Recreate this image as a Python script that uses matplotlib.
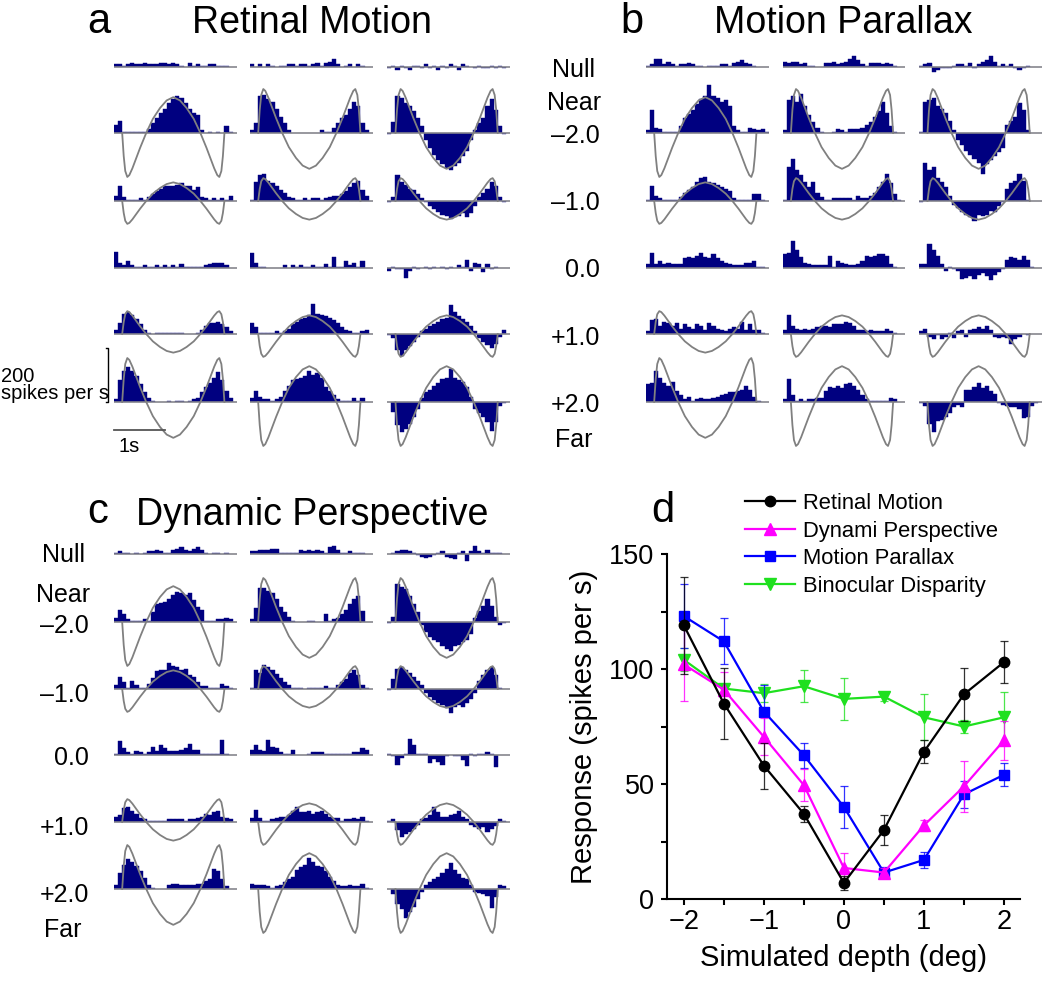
import matplotlib.pyplot as plt
import numpy as np

plt.rcParams['font.family'] = ['Liberation Sans', 'DejaVu Sans']

# PSTHs, spikes/s in 30 bins of 80 ms from -0.16 s to 2.24 s
# rows: Null, -2.0, -1.0, 0.0, +1.0, +2.0 ; three example conditions per row
retinal_psth = [
    [[10,10,5,10,15,10,10,15,10,10,10,15,15,10,15,10,5,0,15,5,10,5,5,10,10,5,5,5,0,0],
     [10,0,10,0,10,5,0,5,5,10,10,5,10,10,5,10,15,5,15,20,30,10,0,5,10,0,10,5,0,0],
     [-5,5,-10,5,-5,-10,5,5,-5,10,-5,5,-10,5,-5,10,5,-10,10,5,0,-5,5,-5,-5,5,-5,5,-5,0]],
    [[30,45,5,5,5,5,5,5,15,35,55,75,90,110,125,135,130,110,90,75,65,10,0,3,0,3,0,25,5,0],
     [10,35,135,140,125,115,90,60,35,10,0,0,0,0,0,0,0,12,5,5,18,35,55,65,90,115,100,35,12,0],
     [-5,40,135,130,110,100,80,55,25,-25,-55,-80,-100,-115,-130,-135,-120,-110,-85,-65,-25,12,35,55,100,125,85,25,-5,0]],
    [[20,55,15,5,5,5,10,5,15,25,35,45,55,55,55,60,65,55,55,40,50,15,10,5,10,5,10,5,20,0],
     [5,70,95,100,75,65,55,40,30,15,10,5,5,10,5,10,10,5,10,15,20,20,25,35,50,65,75,40,20,0],
     [-5,15,95,70,60,45,40,25,10,-5,-20,-30,-40,-50,-55,-65,-60,-55,-45,-60,-45,-20,15,30,45,70,55,15,-5,0]],
    [[60,20,10,25,10,5,5,10,5,5,10,5,10,5,10,5,15,5,5,5,5,5,10,15,20,20,20,10,0,0],
     [55,20,5,5,0,0,0,0,10,0,10,5,10,5,5,10,5,5,15,5,40,5,5,25,10,20,5,25,0,0],
     [-10,5,-5,-5,-35,-10,5,-5,0,5,-5,5,0,5,-5,5,0,10,5,30,-10,20,15,-15,15,-5,5,0,0,0]],
    [[15,40,75,80,70,55,35,15,5,0,5,5,5,5,5,5,5,0,0,0,5,15,30,40,40,45,35,25,10,0],
     [40,25,5,5,5,5,10,5,10,20,35,45,55,60,70,110,75,70,65,60,50,40,25,15,10,5,5,10,15,0],
     [-5,-15,-60,-80,-60,-45,-30,-10,10,20,30,35,45,55,60,105,80,65,55,45,30,10,-15,-30,-40,-50,-35,-10,15,0]],
    [[10,80,115,130,115,95,65,35,15,5,0,0,0,5,0,5,5,0,5,10,15,35,55,70,90,110,80,40,15,0],
     [15,40,20,10,10,5,10,20,40,60,80,85,90,95,115,100,105,90,55,40,25,10,5,5,5,15,5,15,0,0],
     [0,-35,-85,-110,-100,-80,-55,-25,15,35,45,60,70,85,90,120,90,80,75,55,20,-25,-40,-55,-75,-105,-75,-15,-5,0]],
]

parallax_psth = [
    [[5,10,30,30,10,20,10,5,10,10,15,10,5,5,0,5,5,5,10,10,5,15,20,25,15,10,5,0,0,0],
     [20,15,20,20,10,15,5,5,0,0,15,15,20,10,15,20,30,40,25,10,5,15,15,15,10,15,10,5,0,0],
     [5,10,15,-20,-10,-5,-5,-5,5,10,10,5,15,-5,10,20,25,40,20,5,10,5,10,-5,-10,-5,5,0,0,0]],
    [[10,85,20,15,5,5,5,5,25,55,70,85,105,125,135,175,135,130,115,120,100,25,10,5,5,20,15,10,15,5],
     [10,120,135,115,145,100,65,40,20,5,0,0,5,15,10,5,15,15,15,20,30,40,60,80,115,75,25,5,0,0],
     [5,115,120,130,100,90,75,45,10,-25,-45,-65,-80,-95,-110,-150,-115,-100,-85,-70,-55,30,45,60,110,85,10,0,0,0]],
    [[5,55,20,10,5,5,5,5,15,30,40,50,70,85,90,70,65,60,50,45,35,10,5,5,5,5,25,25,5,0],
     [5,125,155,115,95,70,50,70,30,15,5,5,10,10,10,10,10,5,20,10,10,20,30,50,70,100,65,25,5,0],
     [-5,140,115,125,85,70,50,20,-15,-25,-40,-50,-60,-75,-50,-55,-50,-35,-40,-20,-5,45,65,75,100,75,5,0,0,0]],
    [[15,55,15,25,15,20,15,15,15,35,40,35,45,55,40,35,50,35,25,20,15,10,10,10,20,20,25,5,5,0],
     [50,55,100,65,40,20,15,10,10,10,10,45,5,25,20,15,10,10,15,25,45,40,45,50,50,45,15,5,0,0],
     [15,15,90,65,45,15,-10,5,-5,-10,-40,-35,-30,-40,-25,-20,-30,-45,-25,-15,-5,30,40,35,30,45,30,5,0,0]],
    [[10,50,55,30,45,40,30,40,20,35,25,20,35,30,15,40,30,20,15,10,20,25,20,45,15,35,15,15,5,0],
     [15,70,30,20,15,20,15,20,25,30,30,25,35,35,35,45,40,30,15,15,10,15,10,10,10,20,10,5,0,0],
     [10,20,-10,-20,-5,-20,-10,5,-15,10,15,-10,15,20,25,20,30,15,-10,-15,-10,-15,-35,-20,-10,0,-5,0,0,0]],
    [[65,70,115,90,70,60,75,40,25,10,20,5,10,15,10,10,15,20,25,30,35,35,40,45,60,45,20,5,0,0],
     [10,85,25,5,10,5,10,10,15,15,40,55,50,60,50,65,70,60,45,25,10,5,5,5,5,5,15,10,0,0],
     [-5,-15,-80,-110,-70,-65,-55,-40,-20,-10,-20,45,45,55,70,50,60,40,30,-5,-10,-15,-20,-20,-25,-60,-55,-15,-5,0]],
]

perspective_psth = [
    [[5,10,5,5,0,5,0,5,10,10,15,10,5,5,15,20,25,15,10,20,25,15,5,0,5,5,0,5,0,0],
     [10,10,15,15,15,20,20,5,5,5,5,5,15,10,15,10,15,10,5,25,30,15,5,5,10,5,5,5,0,0],
     [0,5,10,15,15,10,5,-5,-10,-15,-10,-5,5,10,-10,-15,-20,5,10,-25,10,30,10,5,15,5,5,5,0,0]],
    [[15,45,30,10,5,5,5,10,5,35,65,70,75,85,100,110,105,100,105,80,55,45,5,5,5,10,10,15,10,0],
     [10,50,125,125,115,105,85,55,35,20,5,0,0,0,5,5,0,0,30,5,10,15,30,45,65,85,95,40,0,0],
     [-5,20,140,130,120,95,65,35,-10,-35,-55,-65,-75,-90,-100,-105,-90,-85,-75,-65,-45,15,40,60,85,60,20,-10,-5,0]],
    [[15,45,25,5,30,15,5,5,20,40,65,70,70,95,85,80,70,75,50,45,25,10,10,5,5,5,20,10,5,0],
     [5,70,60,90,80,70,55,40,25,15,5,5,5,0,5,5,5,5,10,5,5,15,25,35,60,70,50,15,5,0],
     [-5,35,75,80,70,60,45,30,15,-15,-30,-40,-50,-60,-70,-90,-65,-60,-65,-50,-35,-15,30,50,70,80,50,5,0,0]],
    [[5,50,25,10,5,15,10,5,10,30,15,35,25,15,15,15,20,25,40,20,20,5,5,5,5,5,55,5,0,0],
     [20,35,20,15,55,30,25,10,5,5,20,0,0,0,5,10,10,10,5,5,5,5,5,5,5,10,10,25,20,0],
     [5,-5,-35,-10,5,60,35,5,5,5,-30,-15,-25,-35,-5,0,-5,-5,-20,-40,5,-5,5,5,10,5,-45,0,0,0]],
    [[20,25,50,55,40,30,15,10,5,5,5,5,5,10,10,10,10,5,10,10,15,20,30,25,35,40,20,15,10,0],
     [15,45,15,5,5,10,15,20,20,25,40,55,35,35,40,30,35,40,30,20,15,15,5,10,10,15,10,20,5,0],
     [5,10,-30,-55,-45,-35,-25,-10,10,15,25,55,35,20,20,25,30,40,20,10,-10,-20,-25,-20,-35,-25,-15,10,5,0]],
    [[15,60,90,110,100,85,65,40,15,5,0,0,0,15,20,20,15,15,15,15,20,20,30,35,75,65,35,10,0,0],
     [20,15,15,15,10,5,10,15,25,35,45,70,80,90,115,100,85,80,65,45,30,15,10,10,15,10,10,20,5,0],
     [0,-20,-55,-75,-105,-85,-65,-35,-10,15,25,35,45,60,75,95,70,55,40,35,15,-10,-15,-20,-25,-70,-30,15,10,0]],
]

# gray reference curve (spikes/s) over the 2 s stimulus
curve_t = [0, 0.03, 0.06, 0.1, 0.14, 0.2, 0.26, 0.35, 0.47, 0.6, 0.74, 0.87, 1.0,
           1.13, 1.26, 1.4, 1.53, 1.65, 1.74, 1.8, 1.86, 1.9, 1.94, 1.97, 2.0]
curve_v = [0, 85, 140, 162, 155, 130, 100, 55, 0, -52, -92, -120, -132,
           -120, -92, -52, 0, 55, 100, 130, 155, 162, 140, 85, 0]
curve_gain = [[0, 0, 0], [-1, 1, 1], [-0.52, 0.52, 0.52], [0, 0, 0],
              [0.52, -0.52, -0.52], [1, -1, -1]]

row_labels = ['–2.0', '–1.0', '0.0', '+1.0', '+2.0']

# panel d
depths = [-2, -1.5, -1, -0.5, 0, 0.5, 1, 1.5, 2]
retinal_resp = [119, 85, 58, 37, 7, 30, 64, 89, 103]
retinal_err = [21, 15.5, 10, 3.5, 3, 6.5, 5, 11.5, 9]
persp_resp = [102, 91, 70.5, 49.5, 13.5, 11.5, 32, 49, 69]
persp_err = [16, 7.5, 8, 7, 6.5, 2, 2.5, 11, 8.5]
parallax_resp = [123, 112, 81.5, 62.5, 40, 11.5, 17, 45.5, 54]
parallax_err = [14, 10, 11.5, 5.5, 9, 2.5, 3.5, 6, 5]
binoc_resp = [104, 91.5, 89.5, 92.5, 87, 88, 79, 75, 79]
binoc_err = [5, 2, 4, 7, 9, 2, 10, 3, 11]

W, H = 1050, 1001
fig = plt.figure(figsize=(10.5, 10.01), dpi=100)


def axes_px(left, top, width, height):
    return fig.add_axes([left / W, 1 - (top + height) / H, width / W, height / H])


def text_px(x, y, s, **kw):
    fig.text(x / W, 1 - y / H, s, **kw)


bin_left = np.arange(30) * 0.08 - 0.16
half_h = 200 * 0.2715  # px for 200 spikes/s
hist_w = 122.7

panels = [
    (retinal_psth, [114, 250, 387.3], [67, 133, 201, 268, 334, 402]),
    (parallax_psth, [646, 782.7, 919.3], [67, 133, 201, 268, 334, 402]),
    (perspective_psth, [114, 250, 387.3], [554, 622, 689, 755, 822, 889]),
]

scale_ax = None
for data, lefts, bases in panels:
    for r, base in enumerate(bases):
        for c, left in enumerate(lefts):
            ax = axes_px(left, base - half_h, hist_w, 2 * half_h)
            ax.patch.set_alpha(0)
            ax.bar(bin_left, data[r][c], width=0.08, align='edge', color='#000080',
                   edgecolor='#000080', linewidth=0.3)
            ax.plot([-0.16, 2.24], [0, 0], color='#8c8c8c', lw=1.1)
            g = curve_gain[r][c]
            if g:
                ax.plot(curve_t, np.array(curve_v) * g, color='#808080', lw=1.3)
            ax.set_xlim(-0.16, 2.24)
            ax.set_ylim(-200, 200)
            ax.axis('off')
            if data is retinal_psth and r == 5 and c == 0:
                scale_ax = ax

# scale bars
scale_ax.plot([-0.32, -0.28, -0.28, -0.32], [200, 200, 0, 0], color='black', lw=1, clip_on=False)
scale_ax.plot([-0.16, 0.84], [-103, -103], color='#555555', lw=1.3, clip_on=False)
text_px(1, 382, '200', fontsize=14.5, va='baseline')
text_px(1, 399, 'spikes per s', fontsize=14.5, va='baseline')
text_px(119, 452, '1s', fontsize=14.5, va='baseline')

# titles
text_px(87, 33, 'a', fontsize=30, va='baseline')
text_px(312, 33, 'Retinal Motion', fontsize=27, ha='center', va='baseline')
text_px(620, 33, 'b', fontsize=30, va='baseline')
text_px(843, 33, 'Motion Parallax', fontsize=27, ha='center', va='baseline')
text_px(87, 523, 'c', fontsize=30, va='baseline')
text_px(312, 525, 'Dynamic Perspective', fontsize=27, ha='center', va='baseline')
text_px(651, 522, 'd', fontsize=30, va='baseline')

# row labels
for word_x, num_x, ys in [(574, 600, [77, 110, 143, 210, 277, 345, 412, 447]),
                          (63, 89, [562, 602, 633, 702, 765, 835, 902, 937])]:
    text_px(word_x, ys[0], 'Null', fontsize=18, ha='center', va='baseline')
    text_px(word_x, ys[1], 'Near', fontsize=18, ha='center', va='baseline')
    for lab, y in zip(row_labels, ys[2:7]):
        text_px(num_x, y, lab, fontsize=18, ha='right', va='baseline')
    text_px(word_x, ys[7], 'Far', fontsize=18, ha='center', va='baseline')

# panel d
ax = axes_px(667, 554, 353, 345)
series = [
    (binoc_resp, binoc_err, '#1fe01f', 'v', 8.5, 'Binocular Disparity'),
    (parallax_resp, parallax_err, '#0000ff', 's', 7.5, 'Motion Parallax'),
    (persp_resp, persp_err, '#ff00ff', '^', 8.5, 'Dynami Perspective'),
    (retinal_resp, retinal_err, 'black', 'o', 7.5, 'Retinal Motion'),
]
handles = {}
for resp, err, col, mk, ms, lab in series:
    ax.errorbar(depths, resp, yerr=err, fmt='none', ecolor=col, elinewidth=0.9,
                capsize=3, capthick=0.9, alpha=0.8)
    line, = ax.plot(depths, resp, color=col, marker=mk, markersize=ms, lw=1.6, label=lab)
    handles[lab] = line

order = ['Retinal Motion', 'Dynami Perspective', 'Motion Parallax', 'Binocular Disparity']
ax.legend([handles[k] for k in order], order, loc='upper left',
          bbox_to_anchor=(745 / W, 1 - 493 / H), bbox_transform=fig.transFigure,
          frameon=False, fontsize=15.8, handlelength=2.28, handletextpad=0.37,
          labelspacing=0.3, borderpad=0, borderaxespad=0)

ax.set_xlim(-2.21, 2.2)
ax.set_ylim(0, 150)
ax.set_xticks([-2, -1, 0, 1, 2])
ax.set_xticks([-1.5, -0.5, 0.5, 1.5], minor=True)
ax.set_yticks([0, 50, 100, 150])
ax.set_yticks([25, 75, 125], minor=True)
for s in ['top', 'right']:
    ax.spines[s].set_visible(False)
for s in ['left', 'bottom']:
    ax.spines[s].set_linewidth(1.5)
ax.tick_params(which='both', direction='out', length=4, width=1.5, labelsize=19.5)
ax.tick_params(axis='y', pad=5)
ax.set_xlabel('Simulated depth (deg)', fontsize=21, labelpad=6)
ax.set_ylabel('Response (spikes per s)', fontsize=21, labelpad=8)
ax.patch.set_alpha(0)

fig.savefig('out.png', dpi=100)
